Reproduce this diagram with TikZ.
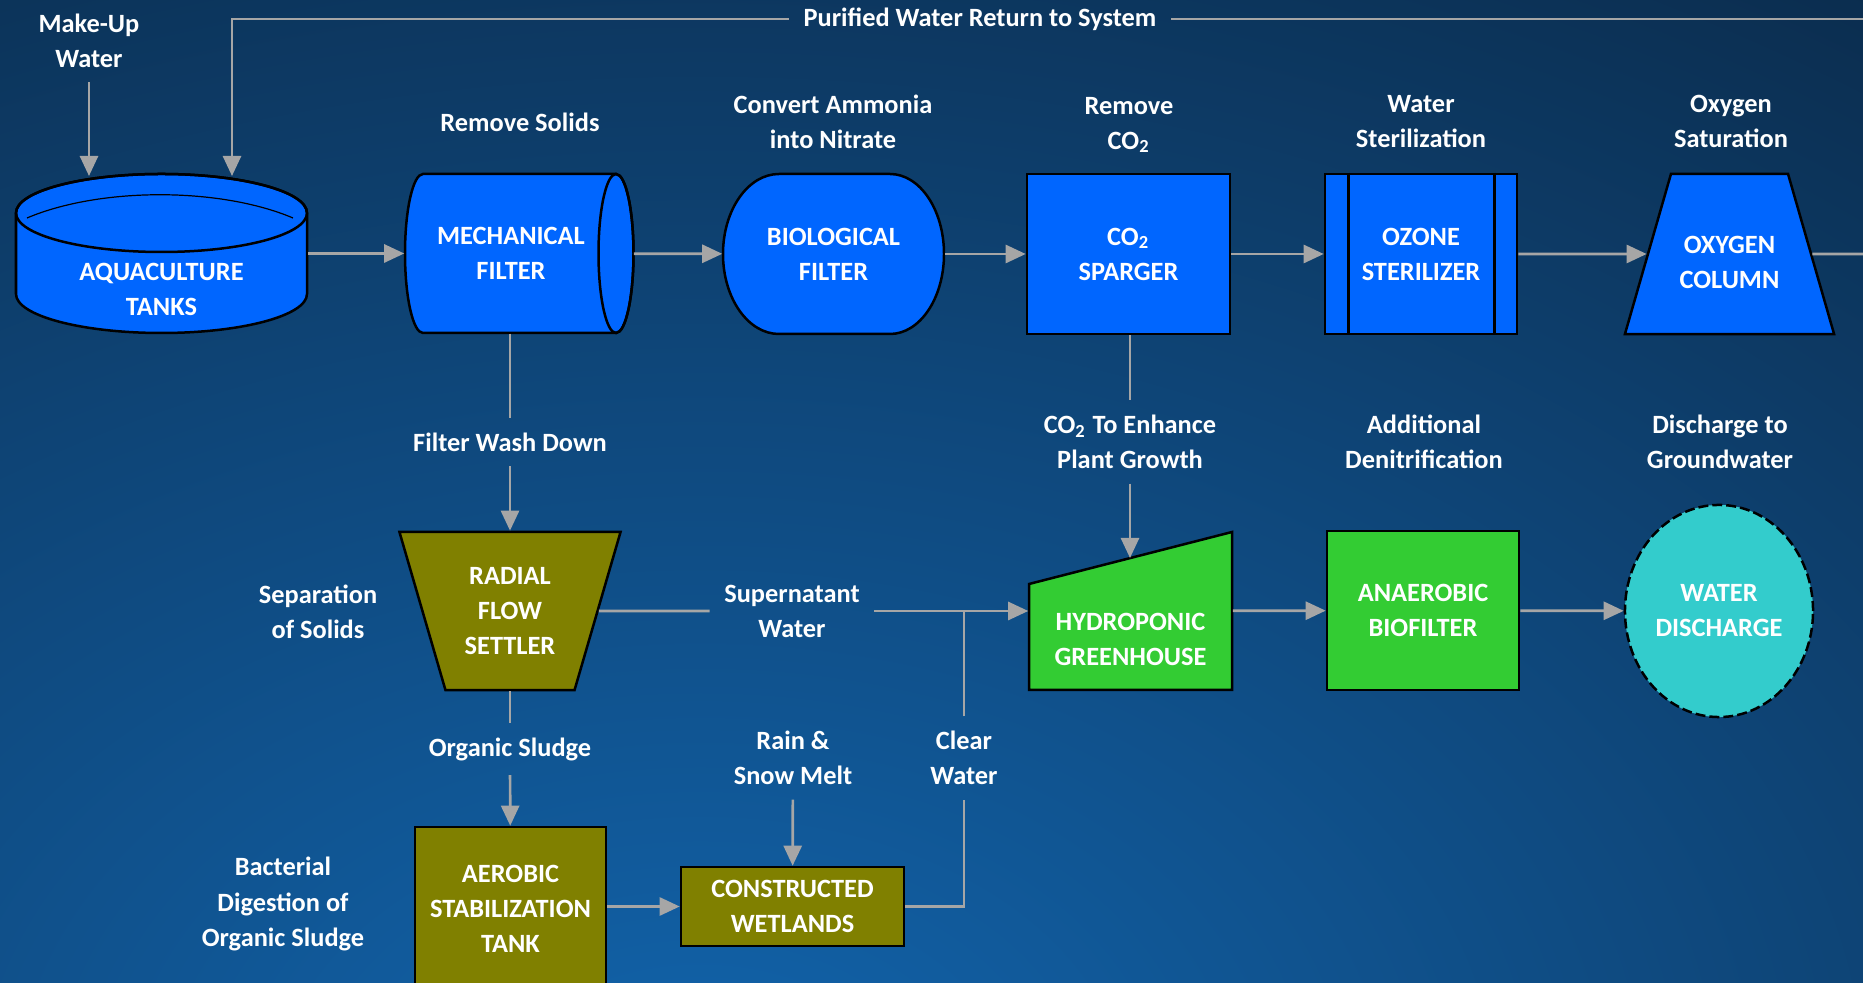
\documentclass[tikz,border=0pt]{standalone}
\usepackage{fontspec}
\setmainfont{Carlito}
\usetikzlibrary{arrows.meta, positioning, backgrounds, shapes.geometric, calc}
\definecolor{unitblue}{HTML}{0066FF}
\definecolor{settlerolive}{HTML}{808000}
\definecolor{plantgreen}{HTML}{33CC33}
\definecolor{dischcyan}{HTML}{33CCCC}
\definecolor{pipegray}{HTML}{A6A6A6}
\definecolor{bgnavy}{HTML}{091B30}
\definecolor{bgblue}{HTML}{1264AC}
\newcommand{\diafont}{\fontsize{7.5pt}{9.96pt}\selectfont\bfseries}
\tikzset{%
	unit/.style={draw=black, line width=0.025cm, text=white, font=\diafont, align=center, inner sep=0pt},
	ghost/.style={draw=none, text=white, font=\diafont, align=center, inner sep=0pt},
	outline/.style={draw=black, line width=0.025cm},
	txt/.style={text=white, font=\diafont, align=center, inner sep=0.14cm},
	pipe/.style={draw=pipegray, line width=0.027cm},
	flow/.style={pipe, -{Triangle[length=0.2cm, width=0.18cm]}}
}
\begin{document}
\begin{tikzpicture}[x=0.01cm, y=-0.01cm]
	\useasboundingbox (0,0) rectangle (1863,983);
	% top row
	\node[ghost, minimum width=2.91cm, minimum height=1.59cm,
		label={[ghost, yshift=-0.36cm]center:AQUACULTURE\\TANKS}] (tank) at (161.5,253.5) {};
	\node[ghost, minimum width=2.28cm, minimum height=1.59cm,
		label={[ghost, xshift=-0.08cm]center:MECHANICAL\\FILTER}] (mech) at (519,253.5) {};
	\node[ghost, minimum width=2.21cm, minimum height=1.6cm] (bio) at (833.5,254) {BIOLOGICAL\\FILTER};
	\node[unit, fill=unitblue, minimum width=2.03cm, minimum height=1.6cm] (spg) at (1128.5,254) {CO\textsubscript{2}\\SPARGER};
	\node[unit, fill=unitblue, minimum width=1.92cm, minimum height=1.6cm] (ozone) at (1421,254) {OZONE\\STERILIZER};
	\node[unit, fill=unitblue, trapezium, trapezium angle=73.96, trapezium stretches body,
		minimum width=2.09cm,
		label={[ghost, yshift=-0.08cm]center:OXYGEN\\COLUMN}] (oxy) at (1729.5,254) {\rule{0pt}{1.6cm}};
	% middle row
	\node[unit, fill=settlerolive, trapezium, trapezium angle=73.77, trapezium stretches body,
		shape border rotate=180, minimum width=2.21cm,
		label={[ghost]center:RADIAL\\FLOW\\SETTLER}] (settler) at (510,611) {\rule{0pt}{1.58cm}};
	\node[ghost, minimum width=2.03cm, minimum height=1.58cm,
		label={[ghost, yshift=-0.28cm]center:HYDROPONIC\\GREENHOUSE}] (hydro) at (1130.5,611) {};
	\node[unit, fill=plantgreen, minimum width=1.92cm, minimum height=1.59cm] (anaer) at (1423,610.5) {ANAEROBIC\\BIOFILTER};
	\node[unit, fill=dischcyan, ellipse, dash pattern=on 0.1cm off 0.04cm,
		minimum width=1.88cm, minimum height=2.12cm] (dis) at (1719,611) {WATER\\DISCHARGE};
	% bottom row
	\node[unit, fill=settlerolive, minimum width=1.91cm, minimum height=1.63cm] (aer) at (510.5,908.5) {AEROBIC\\STABILIZATION\\TANK};
	\node[unit, fill=settlerolive, minimum width=2.23cm, minimum height=0.79cm] (wet) at (792.5,906.5) {CONSTRUCTED\\WETLANDS};

	% captions
	\node[txt] (mulbl) at (89,40.5) {Make-Up\\Water};
	\node[txt] (retlbl) at (980,19) {Purified Water Return to System};
	\node[txt] (solidlbl) at (520,122) {Remove Solids};
	\node[txt] (ammlbl) at (833,121.5) {Convert Ammonia\\into Nitrate};
	\node[txt] (rmco2lbl) at (1129,125) {Remove\\CO\textsubscript{2}};
	\node[txt] (sterlbl) at (1421,121.5) {Water\\Sterilization};
	\node[txt] (satlbl) at (1731,121.5) {Oxygen\\Saturation};
	\node[txt] (washlbl) at (510,442) {Filter Wash Down};
	\node[txt] (co2lbl) at (1130,442) {CO\textsubscript{2} To Enhance\\Plant Growth};
	\node[txt] (denitlbl) at (1424,442) {Additional\\Denitrification};
	\node[txt] (gwlbl) at (1720,442) {Discharge to\\Groundwater};
	\node[txt] (seplbl) at (318,612) {Separation\\of Solids};
	\node[txt] (superlbl) at (792,611) {Supernatant\\Water};
	\node[txt] (sludgelbl) at (510,749) {Organic Sludge};
	\node[txt] (rainlbl) at (793,758) {Rain \&\\Snow Melt};
	\node[txt] (clearlbl) at (964,758) {Clear\\Water};
	\node[txt] (bactlbl) at (283,904) {Bacterial\\Digestion of\\Organic Sludge};

	\coordinate (tankin) at (232,176);
	\coordinate (retsrc) at (1870,19);
	\coordinate (oxyout) at (1870,254);
	\coordinate (roof) at (1130,558);

	\begin{pgfonlayer}{background}
		\clip (0,0) rectangle (1863,983);
		\fill[bgnavy] (0,0) rectangle (1863,983);
		\shade[inner color=bgblue, outer color=bgnavy] (700,1100) ellipse[x radius=2700, y radius=1800];
		% tank
		\path[outline, fill=unitblue] (16,213) -- (16,294)
			arc[start angle=180, end angle=0, x radius=145.5, y radius=39] -- (307,213)
			arc[start angle=0, end angle=-180, x radius=145.5, y radius=39] -- cycle;
		\draw[outline] (161.5,213) ellipse[x radius=145.5, y radius=39];
		\draw[black, line width=0.012cm] (27,218) .. controls (100,187) and (220,187) .. (293,218);
		% mechanical filter
		\path[outline, fill=unitblue] (423,174)
			arc[start angle=-90, end angle=-270, x radius=18, y radius=79.5] -- (616,333)
			arc[start angle=90, end angle=-90, x radius=17.5, y radius=79.5] -- cycle;
		\draw[outline] (616,253.5) ellipse[x radius=17.5, y radius=79.5];
		% biological filter
		\path[outline, fill=unitblue] (779,174) -- (890,174)
			arc[start angle=-90, end angle=90, x radius=54, y radius=80] -- (779,334)
			arc[start angle=90, end angle=270, x radius=56, y radius=80] -- cycle;
		% greenhouse
		\path[outline, fill=plantgreen] (1029,690) -- (1029,584) -- (1232,532) -- (1232,690) -- cycle;
	\end{pgfonlayer}
	\draw[outline] ([xshift=0.25cm]ozone.north west) -- ([xshift=0.25cm]ozone.south west);
	\draw[outline] ([xshift=-0.24cm]ozone.north east) -- ([xshift=-0.24cm]ozone.south east);

	% connectors
	\draw[flow] (mulbl) -- (mulbl |- tankin);
	\draw[pipe] (retsrc) -- (retlbl);
	\draw[flow] (retlbl) -| (tankin);
	\draw[flow] (tank) -- (mech);
	\draw[flow] (mech) -- (bio);
	\draw[flow] (bio) -- (spg);
	\draw[flow] (spg) -- (ozone);
	\draw[flow] (ozone) -- (oxy);
	\draw[pipe] (oxy) -- (oxyout);
	\draw[pipe] (mech.south -| washlbl) -- (washlbl);
	\draw[flow] (washlbl) -- (settler);
	\draw[pipe] (settler) -- (superlbl);
	\draw[flow] (superlbl) -- (hydro);
	\draw[pipe] (spg.south -| co2lbl) -- (co2lbl);
	\draw[flow] (co2lbl) -- (roof);
	\draw[flow] (hydro) -- (anaer);
	\draw[flow] (anaer) -- (dis);
	\draw[pipe] (settler) -- (sludgelbl);
	\draw[flow] (sludgelbl) -- (aer);
	\draw[flow] (aer.east |- wet) -- (wet);
	\draw[flow] (rainlbl) -- (wet);
	\draw[pipe] (wet) -| (clearlbl);
	\draw[pipe] (clearlbl) -- (clearlbl |- superlbl);
\end{tikzpicture}
\end{document}
